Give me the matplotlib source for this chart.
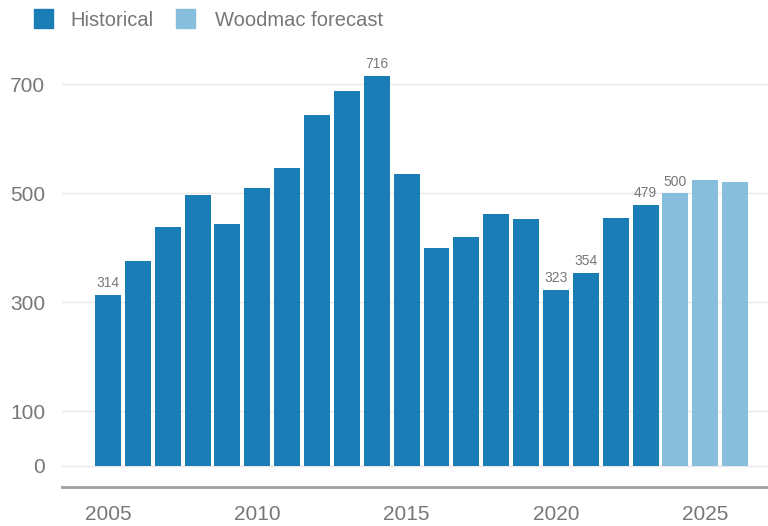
import matplotlib.pyplot as plt
from matplotlib.patches import Rectangle

years = list(range(2005, 2027))
values = [314, 376, 439, 496, 444, 510, 547, 643, 688, 716, 535, 400, 419,
          462, 452, 323, 354, 455, 479, 500, 524, 521]
forecast_from = 2024
labelled = {2005: 314, 2014: 716, 2020: 323, 2021: 354, 2023: 479, 2024: 500}
yticks = [0, 100, 300, 500, 700]
xticks = [2005, 2010, 2015, 2020, 2025]

hist_color = '#1a7db5'
fc_color = '#87bedc'
text_color = '#777777'

plt.rcParams['font.family'] = ['Liberation Sans', 'DejaVu Sans']

fig = plt.figure(figsize=(7.68, 5.26), dpi=100)
ax = fig.add_axes([62 / 768, 0.0741, 1 - 62 / 768, 0.9226 - 0.0741])

colors = [fc_color if y >= forecast_from else hist_color for y in years]
ax.bar(years, values, width=0.87, color=colors, zorder=2)

for y, v in labelled.items():
    ax.text(y, v + 8, str(v), ha='center', va='bottom', fontsize=10, color=text_color)

ax.set_ylim(-39, 780)
ax.set_xlim(2003.46, 2027.1)
ax.set_yticks(yticks)
ax.set_xticks(xticks)
ax.tick_params(axis='both', length=0, labelsize=15, labelcolor=text_color)
ax.tick_params(axis='y', pad=12)
ax.tick_params(axis='x', pad=13)
ax.grid(axis='y', color='#e8e8e8', linewidth=1, zorder=0)
for s in ['top', 'right', 'left']:
    ax.spines[s].set_visible(False)
ax.spines['bottom'].set_color('#a0a0a0')
ax.spines['bottom'].set_linewidth(2)

# legend drawn by hand at the top left
W, H = 768, 526
fig.add_artist(Rectangle((34 / W, 1 - 28 / H), 19 / W, 19 / H, color=hist_color,
                         transform=fig.transFigure))
fig.text(70 / W, 1 - 21 / H, 'Historical', fontsize=14.5, color=text_color, va='center')
fig.add_artist(Rectangle((176 / W, 1 - 28 / H), 19 / W, 19 / H, color=fc_color,
                         transform=fig.transFigure))
fig.text(215 / W, 1 - 21 / H, 'Woodmac forecast', fontsize=14.5, color=text_color, va='center')

fig.savefig('out.png', dpi=100)
